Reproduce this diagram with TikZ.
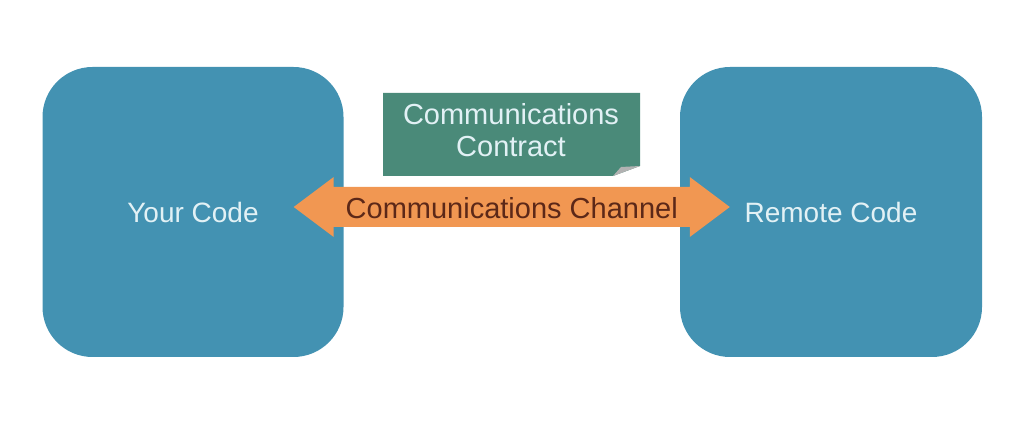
\documentclass[tikz,border=0pt]{standalone}
\usepackage{fontspec}
\setmainfont{Liberation Sans}
\usepackage{tikz}
\usetikzlibrary{
  positioning,
  calc
}
\definecolor{codeblue}{RGB}{67,146,178}
\definecolor{contractgreen}{RGB}{74,138,121}
\definecolor{channelorange}{RGB}{241,151,82}
\definecolor{channeltext}{RGB}{92,40,24}
\definecolor{lighttext}{RGB}{226,241,245}
\tikzset{
  every code box/.style={fill=codeblue,rounded corners=50pt,text=lighttext,
    minimum width=301pt,minimum height=290pt,font=\fontsize{28}{32}\selectfont},
  every channel/.style={fill=channelorange},
  every contract/.style={fill=contractgreen},
}

\begin{document}
\begin{tikzpicture}[x=1pt,y=1pt]
\useasboundingbox (0,0) rectangle (1030,436);
\node[every code box] (yourcode) at (193,224) {Your Code};
\node[every code box,minimum width=302pt] (remotecode) at (831,224) {Remote Code};
% two-headed channel between the boxes
\coordinate (ltip) at ($(yourcode.east)+(-50,5)$);
\coordinate (rtip) at ($(remotecode.west)+(50,5)$);
\fill[every channel] (ltip) -- ++(40,30) -- ++(0,-10) -- ($(rtip)+(-40,20)$)
  -- ++(0,10) -- (rtip) -- ++(-40,-30) -- ++(0,10) -- ($(ltip)+(40,-20)$)
  -- ++(0,-10) -- cycle;
\node[text=channeltext,font=\fontsize{29}{32}\selectfont] (channel)
  at ($(ltip)!0.5!(rtip)+(0,-1)$) {Communications Channel};
% contract note with its folded corner
\fill[every contract] (383,343) -- (640,343) -- (640,270) -- (613,260) -- (383,260) -- cycle;
\fill[gray!60] (613,260) -- (621,269) -- (640,270) -- cycle;
\node[text=lighttext,align=center,font=\fontsize{29}{32}\selectfont] (contract)
  at (511,306) {Communications\\Contract};
\end{tikzpicture}
\end{document}
